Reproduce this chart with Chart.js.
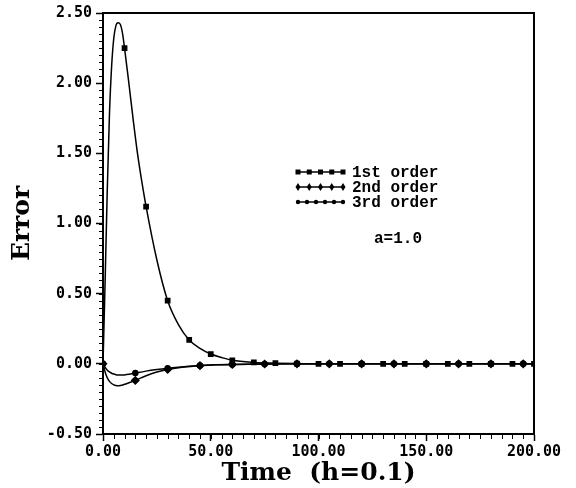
<!DOCTYPE html>
<html>
<head>
<meta charset="utf-8">
<script src="https://cdn.jsdelivr.net/npm/chart.js"></script>
<style>
  html, body { margin: 0; padding: 0; background: #fff; }
</style>
</head>
<body>
<canvas id="chart" width="576" height="488"></canvas>
<script>
  "use strict";

  // 1st order error
  const time1 = [0, 1, 2, 3, 4, 5, 6, 7, 8, 9, 10, 12, 14, 16, 18, 20, 25, 30, 35, 40, 45, 50, 55, 60,
    70, 80, 90, 100, 110, 120, 130, 140, 150, 160, 170, 180, 190, 200];
  const error1 = [0, 0.6, 1.25, 1.78, 2.12, 2.32, 2.41, 2.43, 2.42, 2.36, 2.25, 2.00, 1.74, 1.50, 1.30, 1.12,
    0.74, 0.45, 0.28, 0.17, 0.11, 0.07, 0.045, 0.025, 0.01, 0.005, 0.002, 0, 0, 0, 0, 0, 0, 0, 0, 0, 0, 0];
  const marks1 = [10, 20, 30, 40, 50, 60, 70, 80, 90, 100, 110, 120, 130, 140, 150, 160, 170, 180, 190, 200];

  // 2nd and 3rd order errors
  const time2 = [0, 1, 2, 3, 4, 5, 6, 7, 8, 10, 12, 15, 20, 25, 30, 37.5, 45, 52.5, 60,
    75, 90, 105, 120, 135, 150, 165, 180, 195, 200];
  const error2 = [0, -0.06, -0.10, -0.125, -0.14, -0.15, -0.155, -0.157, -0.155, -0.146, -0.135, -0.118,
    -0.085, -0.058, -0.04, -0.023, -0.013, -0.007, -0.004, -0.001, 0, 0, 0, 0, 0, 0, 0, 0, 0];
  const error3 = [0, -0.025, -0.045, -0.058, -0.067, -0.073, -0.077, -0.079, -0.08, -0.079, -0.075, -0.066,
    -0.052, -0.041, -0.032, -0.021, -0.012, -0.007, -0.004, -0.001, 0, 0, 0, 0, 0, 0, 0, 0, 0];
  const marks2 = [0, 15, 30, 45, 60, 75, 90, 105, 120, 135, 150, 165, 180, 195];

  const seriesNames = ["1st order", "2nd order", "3rd order"];
  const note = "a=1.0";

  const toXY = (xs, ys) => xs.map((x, i) => ({ x: x, y: ys[i] }));
  const radiusAt = (marks, r) => ctx => (ctx.raw && marks.includes(ctx.raw.x) ? r : 0);

  const tickFont = { family: "'DejaVu Sans Mono', monospace", size: 15, weight: "bold" };
  const titleFont = { family: "'DejaVu Serif', serif", size: 25, weight: "bold" };

  // frame, minor ticks and the in-plot legend
  const frame = {
    id: "frame",
    afterDraw(chart) {
      const { ctx, chartArea: a, scales: { x, y } } = chart;
      ctx.save();
      ctx.strokeStyle = "#000";
      ctx.fillStyle = "#000";
      ctx.lineWidth = 2;
      ctx.beginPath();
      ctx.moveTo(a.left, a.top);
      ctx.lineTo(a.right, a.top);
      ctx.lineTo(a.right, a.bottom);
      ctx.stroke();

      ctx.lineWidth = 1;
      ctx.beginPath();
      for (let i = 0; i <= 60; i++) {
        const py = Math.round(y.getPixelForValue(-0.5 + i * 0.05)) + 0.5;
        ctx.moveTo(a.left - 4, py);
        ctx.lineTo(a.left, py);
      }
      for (let i = 0; i <= 40; i++) {
        const px = Math.round(x.getPixelForValue(i * 5)) + 0.5;
        ctx.moveTo(px, a.bottom);
        ctx.lineTo(px, a.bottom + 5);
      }
      ctx.stroke();

      // legend
      const rows = [
        { y: 172, n: 5, style: "rect" },
        { y: 187, n: 5, style: "rectRot" },
        { y: 202, n: 6, style: "circle" }
      ];
      const x0 = 298, x1 = 343;
      ctx.font = "bold 16px 'Liberation Mono', monospace";
      ctx.textBaseline = "middle";
      rows.forEach((r, i) => {
        ctx.lineWidth = 1.5;
        ctx.beginPath();
        ctx.moveTo(x0, r.y);
        ctx.lineTo(x1, r.y);
        ctx.stroke();
        for (let k = 0; k < r.n; k++) {
          const px = x0 + (x1 - x0) * k / (r.n - 1);
          ctx.beginPath();
          if (r.style === "rect") {
            ctx.rect(px - 2.5, r.y - 2.5, 5, 5);
          } else if (r.style === "rectRot") {
            ctx.moveTo(px, r.y - 4);
            ctx.lineTo(px + 2.5, r.y);
            ctx.lineTo(px, r.y + 4);
            ctx.lineTo(px - 2.5, r.y);
            ctx.closePath();
          } else {
            ctx.arc(px, r.y, 2.2, 0, Math.PI * 2);
          }
          ctx.fill();
        }
        ctx.fillText(seriesNames[i], 352, r.y + 1);
      });
      ctx.fillText(note, 374, 239);
      ctx.restore();
    }
  };

  const lineStyle = {
    borderColor: "#000",
    backgroundColor: "#000",
    borderWidth: 1.5,
    fill: false,
    cubicInterpolationMode: "monotone",
    pointHoverRadius: 0
  };

  new Chart(document.getElementById("chart"), {
    type: "line",
    data: {
      datasets: [
        Object.assign({}, lineStyle, {
          label: seriesNames[0],
          data: toXY(time1, error1),
          pointStyle: "rect",
          pointRadius: radiusAt(marks1, 3)
        }),
        Object.assign({}, lineStyle, {
          label: seriesNames[1],
          data: toXY(time2, error2),
          pointStyle: "rectRot",
          pointRadius: radiusAt(marks2, 3.5)
        }),
        Object.assign({}, lineStyle, {
          label: seriesNames[2],
          data: toXY(time2, error3),
          pointStyle: "circle",
          pointRadius: radiusAt(marks2, 2.5)
        })
      ]
    },
    options: {
      responsive: false,
      animation: false,
      devicePixelRatio: 1,
      layout: { padding: { top: 11, right: 42, left: 0, bottom: 0 } },
      plugins: {
        legend: { display: false },
        title: { display: false },
        tooltip: { enabled: false }
      },
      scales: {
        x: {
          type: "linear",
          min: 0,
          max: 200,
          ticks: {
            stepSize: 50,
            maxRotation: 0,
            padding: 2,
            color: "#000",
            font: tickFont,
            callback: v => v.toFixed(2)
          },
          grid: { drawOnChartArea: false, color: "#000", tickLength: 7, tickWidth: 1.5 },
          border: { color: "#000", width: 2 },
          title: {
            display: true,
            text: "Time  (h=0.1)",
            color: "#000",
            font: titleFont,
            padding: { top: 0, bottom: 0 }
          },
          afterFit: s => { s.height = 54; }
        },
        y: {
          min: -0.5,
          max: 2.5,
          ticks: {
            stepSize: 0.5,
            padding: 4,
            color: "#000",
            font: tickFont,
            callback: v => v.toFixed(2)
          },
          grid: { drawOnChartArea: false, color: "#000", tickLength: 7, tickWidth: 1.5 },
          border: { color: "#000", width: 2 },
          title: {
            display: true,
            text: "Error",
            color: "#000",
            font: titleFont,
            padding: { top: 7, bottom: 0 }
          },
          afterFit: s => { s.width = 103; }
        }
      }
    },
    plugins: [frame]
  });
</script>
</body>
</html>
